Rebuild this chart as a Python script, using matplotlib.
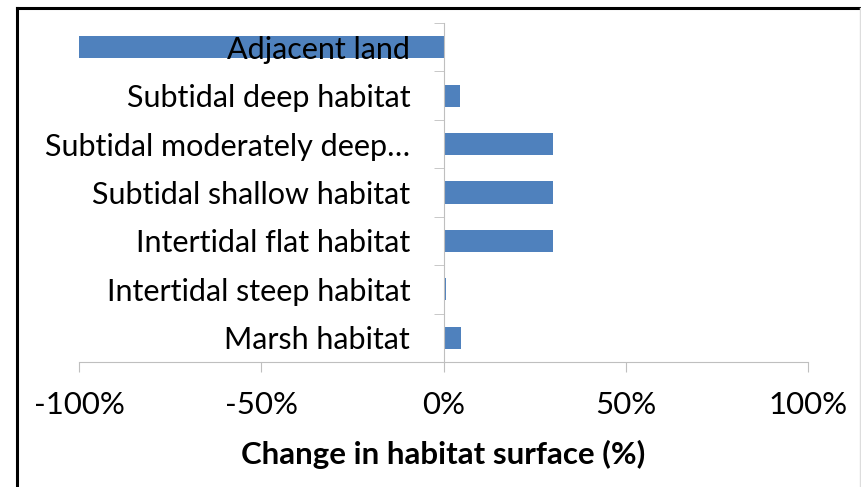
import matplotlib
matplotlib.use('Agg')
import matplotlib.pyplot as plt
from matplotlib.lines import Line2D
from matplotlib.ticker import FuncFormatter, FixedLocator
import numpy as np

# Data (top to bottom as shown)
habitats = ['Adjacent land', 'Subtidal deep habitat', 'Subtidal moderately deep\u2026',
            'Subtidal shallow habitat', 'Intertidal flat habitat',
            'Intertidal steep habitat', 'Marsh habitat']
change = [-1.00, 0.044, 0.30, 0.30, 0.30, 0.006, 0.049]
xticks = [-1.0, -0.5, 0.0, 0.5, 1.0]

bar_color = '#4F81BD'
axis_grey = '#BFBFBF'
font = 'Lato'

fig = plt.figure(figsize=(8.61, 4.87), dpi=100)
ax = fig.add_axes([79/861, 125/487, (808-79)/861, (464-125)/487])

ypos = np.arange(len(habitats))[::-1]
ax.barh(ypos, change, height=0.46, color=bar_color, zorder=1)

ax.set_xlim(-1, 1)
ax.set_ylim(-0.5, len(habitats) - 0.5)

# spines
for s in ['top', 'right']:
    ax.spines[s].set_visible(False)
ax.spines['left'].set_position(('data', 0))
ax.spines['left'].set_color(axis_grey)
ax.spines['bottom'].set_color(axis_grey)

# y ticks: labels at category centers, marks between categories
ax.set_yticks(ypos)
ax.set_yticklabels(habitats, fontsize=22, family=font)
ax.tick_params(axis='y', which='major', length=0, pad=24)
ax.yaxis.set_minor_locator(FixedLocator(np.arange(-0.5, len(habitats), 1.0)))
ax.tick_params(axis='y', which='minor', length=7, color=axis_grey, direction='out')

# x ticks
ax.set_xticks(xticks)
ax.xaxis.set_major_formatter(FuncFormatter(lambda v, p: '%d%%' % round(v * 100)))
ax.tick_params(axis='x', length=7, color=axis_grey, direction='out', pad=14)
for lab in ax.get_xticklabels():
    lab.set_fontsize(22.5)
    lab.set_family(font)
ax.set_xlabel('Change in habitat surface (%)', fontsize=22.5, family=font,
              fontweight='bold', labelpad=15)

# frame lines of the screenshot
fig.add_artist(Line2D([17/861, 17/861], [0, 1 - 8/487], color='black', lw=2.2,
                      transform=fig.transFigure))
fig.add_artist(Line2D([17/861, 1], [1 - 8/487, 1 - 8/487], color='black', lw=2.2,
                      transform=fig.transFigure))
fig.add_artist(Line2D([859.5/861, 859.5/861], [0, 1 - 8/487], color='#DDDDDD', lw=1,
                      transform=fig.transFigure))

fig.savefig('out.png', dpi=100)
